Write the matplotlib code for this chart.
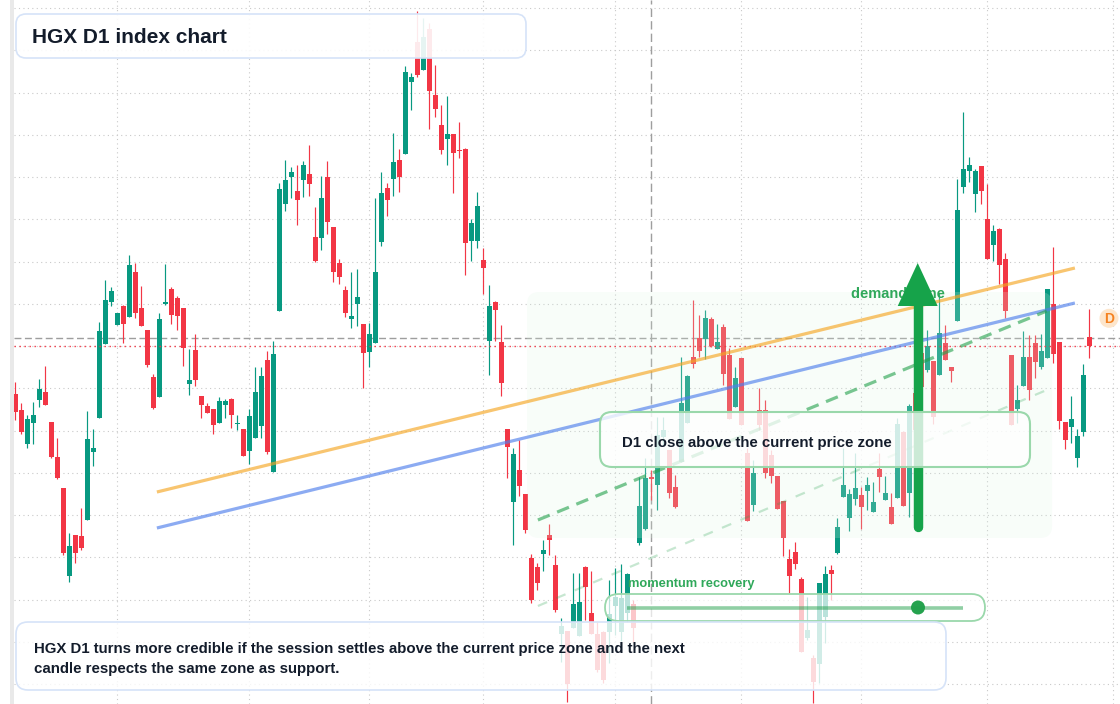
import matplotlib
matplotlib.use('Agg')
import matplotlib.pyplot as plt
from matplotlib.colors import to_rgba
from matplotlib.patches import FancyBboxPatch, Circle, Polygon, Rectangle

plt.rcParams['font.family'] = ['Liberation Sans', 'DejaVu Sans']

# daily candles, oldest first
opens = [31.0, 29.4, 26.0, 28.1, 30.4, 31.2, 28.2, 24.7, 21.6, 12.8,
         16.9, 16.8, 18.4, 25.2, 28.6, 36.0, 40.2, 37.9, 39.8, 38.7,
         43.2, 39.6, 37.4, 32.7, 30.7, 40.0, 41.5, 40.6, 39.6, 32.0,
         35.4, 30.8, 29.8, 29.5, 28.1, 29.9, 30.5, 28.0, 27.5, 25.3,
         26.6, 27.8, 34.4, 23.2, 39.3, 50.0, 52.7, 51.3, 52.4, 53.0,
         46.7, 46.6, 52.7, 47.7, 44.1, 41.4, 38.5, 40.0, 38.0, 35.2,
         36.1, 46.2, 51.6, 52.5, 54.4, 55.0, 62.2, 66.2, 63.4, 67.5,
         60.9, 57.9, 56.5, 57.0, 55.4, 55.5, 46.3, 46.3, 44.4, 36.3,
         40.2, 36.2, 27.5, 20.2, 23.4, 21.0, 14.6, 13.7, 15.0, 16.9,
         13.9, 7.0, 7.3, 7.6, 6.8, 13.7, 9.1, 7.0, 7.2, 7.2,
         9.8, 7.2, 9.1, 10.0, 16.1, 17.5, 22.7, 21.9, 26.7, 25.4,
         21.7, 24.2, 28.1, 34.7, 36.6, 36.5, 38.5, 35.5, 37.7, 34.9,
         29.7, 34.6, 25.1, 19.9, 29.4, 29.4, 24.9, 22.8, 20.3, 14.5,
         15.2, 12.5, 6.6, 4.6, 4.0, 8.7, 13.4, 15.1, 20.7, 18.6,
         20.5, 20.9, 21.3, 19.2, 23.5, 20.4, 19.7, 20.6, 27.2, 21.1,
         31.1, 35.1, 33.4, 34.3, 32.9, 36.1, 33.7, 38.3, 51.7, 53.3,
         51.0, 53.8, 48.5, 45.9, 47.5, 44.5, 34.9, 29.5, 31.8, 34.7,
         36.1, 33.7, 34.6, 40.0, 36.2, 28.2, 27.7, 24.6, 27.2, 36.7]
highs = [32.2, 30.1, 28.9, 30.2, 32.5, 33.8, 28.2, 26.6, 21.6, 17.1,
         16.9, 19.6, 29.3, 27.5, 38.2, 42.4, 41.7, 39.1, 39.9, 44.9,
         44.1, 41.8, 37.4, 33.0, 39.1, 44.0, 41.7, 40.8, 39.6, 35.5,
         37.0, 30.8, 30.1, 29.5, 30.7, 30.5, 30.6, 28.9, 27.5, 29.5,
         33.7, 33.7, 35.3, 36.3, 52.1, 54.4, 53.7, 53.9, 54.3, 55.9,
         49.7, 52.8, 54.3, 47.7, 44.5, 41.8, 43.2, 43.5, 38.0, 38.1,
         50.6, 53.2, 52.1, 57.1, 55.5, 63.8, 63.1, 69.3, 68.6, 68.1,
         63.9, 59.9, 60.8, 57.0, 58.2, 55.6, 48.5, 51.2, 45.6, 41.9,
         40.3, 37.9, 27.5, 25.6, 26.4, 21.0, 15.0, 14.1, 16.4, 18.0,
         14.9, 8.6, 7.3, 13.1, 13.1, 13.8, 13.3, 8.2, 7.3, 12.4,
         13.6, 14.0, 13.1, 10.4, 22.7, 24.6, 23.4, 28.7, 28.7, 25.4,
         22.9, 34.7, 32.9, 40.4, 38.9, 39.4, 38.7, 38.0, 38.0, 35.6,
         33.7, 34.6, 25.6, 24.4, 31.6, 30.4, 25.4, 22.8, 20.3, 15.5,
         16.2, 12.7, 10.7, 4.9, 12.1, 13.8, 13.9, 18.6, 25.6, 21.5,
         25.1, 21.7, 22.7, 22.2, 25.1, 22.8, 21.1, 28.6, 27.3, 30.0,
         31.9, 35.8, 37.4, 34.3, 41.1, 37.9, 33.7, 52.5, 59.2, 54.7,
         53.5, 53.8, 52.0, 47.9, 47.6, 45.1, 34.9, 31.9, 37.3, 36.9,
         36.9, 37.0, 41.5, 45.7, 36.2, 28.2, 30.8, 27.5, 34.0, 39.5]
lows = [28.4, 27.0, 25.6, 26.0, 29.7, 29.9, 24.6, 22.5, 14.9, 12.2,
        14.1, 15.4, 18.4, 23.8, 28.6, 36.0, 39.8, 37.9, 36.1, 38.7,
        38.6, 37.8, 33.7, 29.5, 30.7, 39.9, 38.0, 37.4, 33.8, 30.9,
        31.8, 28.6, 29.1, 27.0, 28.1, 28.6, 27.6, 27.4, 24.8, 24.0,
        26.6, 26.6, 25.0, 23.2, 39.3, 49.3, 50.6, 47.9, 50.7, 50.8,
        44.2, 45.4, 47.0, 42.2, 42.0, 38.7, 37.6, 37.8, 31.6, 33.7,
        36.1, 45.8, 48.8, 50.8, 51.2, 55.0, 59.4, 62.7, 63.4, 57.5,
        58.7, 55.0, 53.9, 51.1, 54.6, 42.9, 44.3, 45.6, 41.0, 32.9,
        36.3, 30.8, 22.6, 15.9, 20.8, 17.1, 10.1, 11.4, 13.3, 14.9,
        9.2, 4.2, 0.2, 7.6, 6.8, 8.4, 7.0, 3.2, 2.1, 4.1,
        6.9, 6.3, 8.2, 6.2, 15.9, 17.4, 20.4, 19.4, 25.9, 20.6,
        19.6, 24.2, 28.1, 33.6, 34.7, 34.5, 35.7, 35.5, 31.9, 28.5,
        29.7, 27.9, 18.3, 19.3, 27.4, 22.6, 22.1, 19.5, 14.8, 11.1,
        13.5, 5.2, 6.4, 0.1, 2.1, 6.1, 10.4, 15.0, 20.7, 17.3,
        19.9, 17.5, 19.4, 19.2, 21.2, 20.4, 18.0, 20.6, 19.8, 18.7,
        27.2, 31.7, 33.2, 28.0, 32.9, 34.4, 32.2, 38.3, 51.1, 52.2,
        49.2, 50.0, 44.5, 44.3, 42.0, 38.6, 27.9, 28.1, 31.8, 30.4,
        32.6, 33.5, 34.6, 34.1, 27.5, 25.5, 26.1, 23.7, 26.8, 34.6]
closes = [29.2, 27.2, 28.5, 28.9, 31.5, 29.9, 24.7, 22.6, 15.1, 15.8,
          15.1, 15.6, 26.5, 25.6, 37.3, 40.4, 41.3, 39.1, 38.0, 43.9,
          39.1, 37.8, 33.9, 29.6, 38.5, 40.2, 38.9, 38.8, 35.6, 32.4,
          32.4, 29.9, 29.1, 27.9, 30.3, 30.3, 28.9, 28.1, 24.8, 28.8,
          31.2, 32.8, 25.2, 35.0, 51.5, 52.4, 53.2, 50.4, 53.9, 52.0,
          44.3, 50.6, 48.2, 43.2, 42.7, 39.1, 38.8, 40.7, 35.1, 37.0,
          43.2, 51.1, 50.4, 54.2, 52.7, 63.2, 62.7, 62.9, 66.7, 61.3,
          59.5, 55.4, 57.0, 55.1, 55.3, 46.1, 48.1, 49.8, 43.6, 39.8,
          39.4, 32.1, 25.7, 25.0, 21.8, 17.4, 10.4, 12.1, 15.4, 16.4,
          9.4, 7.8, 2.0, 10.0, 10.2, 11.7, 7.0, 3.4, 2.4, 9.0,
          10.7, 10.6, 13.0, 7.6, 19.8, 22.6, 22.5, 26.9, 27.4, 21.1,
          19.7, 30.1, 32.8, 34.0, 35.3, 38.6, 35.8, 36.2, 33.0, 28.5,
          32.6, 27.9, 18.3, 23.1, 27.9, 23.1, 22.8, 19.5, 16.6, 12.8,
          14.0, 5.2, 7.4, 2.2, 12.1, 13.0, 13.0, 17.7, 21.9, 21.0,
          21.6, 19.7, 21.9, 20.2, 22.7, 21.1, 18.0, 28.0, 19.8, 29.8,
          27.4, 31.7, 35.8, 28.7, 37.1, 34.4, 33.3, 49.4, 53.5, 53.9,
          53.3, 51.3, 44.5, 47.3, 43.9, 39.3, 27.9, 30.4, 34.7, 31.4,
          34.2, 35.3, 41.5, 35.0, 28.3, 26.4, 28.5, 26.8, 32.9, 35.8]

# candle index where a new month starts (vertical grid)
month_starts = [17, 39, 59, 78, 100, 121, 141, 162, 183]
grid_step = 4.225
grid_base = 2.0

current_price = closes[-1]
crosshair_idx = 106
crosshair_price = 36.6

# drawn levels
resist_x, resist_y = [23.6, 176.6], [21.2, 43.6]
support_x, support_y = [23.6, 176.6], [17.6, 40.1]
chan_top_x, chan_top_y = [87.1, 171.9], [18.4, 39.3]
chan_low_x, chan_low_y = [87.1, 171.9], [9.8, 31.4]
zone_x, zone_y = [85.3, 172.8], [16.6, 41.2]
arrow_idx, arrow_from, arrow_to = 150.4, 17.7, 44.1

up_col = '#089981'
dn_col = '#f23645'
ink = '#131c2b'
green = '#22a04b'

fig = plt.figure(figsize=(11.2, 7.04), dpi=100)
fig.patch.set_facecolor('white')
fig.patches.append(Rectangle((10 / 1120, 0), 4 / 1120, 1, transform=fig.transFigure,
                             facecolor='#e9e9e9', edgecolor='none'))

ax = fig.add_axes([14 / 1120, 0, 1106 / 1120, 1])
ax.set_xlim(-0.2167, 184.117)
ax.set_ylim(0, 70.4)
for s in ax.spines.values():
    s.set_visible(False)
ax.set_xticks(month_starts)
ax.set_yticks([grid_base + grid_step * k for k in range(17)])
ax.tick_params(length=0, labelbottom=False, labelleft=False)
ax.grid(True, color='#c9c9c9', linestyle=(0, (1, 3)), linewidth=0.8, zorder=0)
ax.set_axisbelow(True)

# crosshair
ax.axvline(crosshair_idx, color='#9e9e9e', lw=1.0, ls=(0, (6, 3)), zorder=1.5)
ax.axhline(crosshair_price, color='#9e9e9e', lw=1.0, ls=(0, (5, 2.5)), zorder=1.5)

# candles
idx = list(range(len(opens)))
cols = [up_col if c >= o else dn_col for o, c in zip(opens, closes)]
bottoms = [min(o, c) for o, c in zip(opens, closes)]
heights = [max(abs(c - o), 0.15) for o, c in zip(opens, closes)]
ax.vlines(idx, lows, highs, colors=cols, lw=0.85, zorder=2)
ax.bar(idx, heights, bottom=bottoms, width=0.78, color=cols, lw=0, zorder=3)

ax.axhline(current_price, color=dn_col, lw=1.0, ls=(0, (1, 2.6)), zorder=5)

# demand zone
zone = FancyBboxPatch((zone_x[0], zone_y[0]), zone_x[1] - zone_x[0], zone_y[1] - zone_y[0],
                      boxstyle='round,pad=0,rounding_size=2', mutation_aspect=0.6,
                      facecolor='#dcf5e3', edgecolor='none', alpha=0.2, zorder=4)
ax.add_patch(zone)

ax.plot(resist_x, resist_y, color='#f5a623', alpha=0.65, lw=2.3, solid_capstyle='butt', zorder=5)
ax.plot(support_x, support_y, color='#4f7fec', alpha=0.65, lw=2.3, solid_capstyle='butt', zorder=5)
ax.plot(chan_top_x, chan_top_y, color=green, alpha=0.6, lw=2.3, ls=(0, (4, 2.5)), zorder=5)
ax.plot(chan_low_x, chan_low_y, color=green, alpha=0.25, lw=1.6, ls=(0, (4.5, 4.5)), zorder=5)

ax.text(139.3, 40.6, 'demand zone', fontsize=10.5, fontweight='bold', color='#2fa85a',
        va='baseline', ha='left', zorder=6)

# up arrow
head_base = arrow_to - 4.3
ax.plot([arrow_idx, arrow_idx], [arrow_from, head_base], color='#16a34a', lw=6.8,
        solid_capstyle='round', zorder=7)
ax.add_patch(Polygon([(arrow_idx - 3.33, head_base), (arrow_idx + 3.33, head_base),
                      (arrow_idx, arrow_to)], closed=True, facecolor='#16a34a',
                     edgecolor='none', zorder=7))

# overlay in pixel space for the notes
ov = fig.add_axes([0, 0, 1, 1])
ov.set_xlim(0, 1120)
ov.set_ylim(704, 0)
ov.axis('off')
ov.patch.set_visible(False)


def note_box(x0, y0, x1, y1, r, alpha, edge, lw):
    p = FancyBboxPatch((x0, y0), x1 - x0, y1 - y0, boxstyle=f'round,pad=0,rounding_size={r}',
                       facecolor=to_rgba('white', alpha), edgecolor=edge, linewidth=lw)
    ov.add_patch(p)


note_box(16, 14, 526, 58, 10, 0.9, '#d6e3f8', 1.2)
ov.text(32, 43.3, 'HGX D1 index chart', fontsize=15, fontweight='bold', color=ink, va='baseline')

note_box(600, 412, 1030, 467, 12, 0.78, '#9ad8ab', 1.5)
ov.text(622, 447.3, 'D1 close above the current price zone', fontsize=10.8,
        fontweight='bold', color=ink, va='baseline')

ov.text(628, 586.7, 'momentum recovery', fontsize=9.3, fontweight='bold', color='#2fa85a',
        va='baseline')
note_box(605, 594, 985, 621, 13.5, 0.72, '#9ad8ab', 1.3)
ov.plot([627, 963], [607.5, 607.5], color=green, alpha=0.5, lw=2.6, solid_capstyle='butt')
ov.add_patch(Circle((918, 607.5), 7, facecolor='#25a24e', edgecolor='none'))

note_box(16, 622, 946, 690, 12, 0.82, '#d6e3f8', 1.2)
ov.text(34, 653.3, 'HGX D1 turns more credible if the session settles above the current price zone and the next',
        fontsize=10.8, fontweight='bold', color=ink, va='baseline')
ov.text(34, 673.3, 'candle respects the same zone as support.',
        fontsize=10.8, fontweight='bold', color=ink, va='baseline')

ov.add_patch(Circle((1109, 318.3), 9.5, facecolor='#fde6cc', edgecolor='none'))
ov.text(1109, 318.8, 'D', fontsize=10, fontweight='bold', color='#f58220', ha='center', va='center')

fig.savefig('out.png', dpi=100)
